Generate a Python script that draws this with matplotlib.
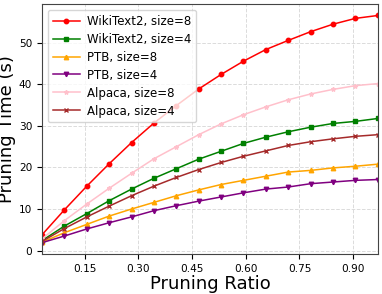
import matplotlib
matplotlib.use('Agg')
import matplotlib.pyplot as plt

# pruning ratios (16 points)
ratios = [0.03125, 0.09375, 0.15625, 0.21875, 0.28125, 0.34375, 0.40625, 0.46875,
          0.53125, 0.59375, 0.65625, 0.71875, 0.78125, 0.84375, 0.90625, 0.96875]

wiki_8 = [3.8, 9.8, 15.5, 20.9, 26.0, 30.7, 34.9, 38.9, 42.4, 45.6, 48.4, 50.6, 52.7, 54.5, 55.9, 56.6]
wiki_4 = [2.4, 5.9, 8.9, 12.0, 14.8, 17.4, 19.7, 22.0, 23.9, 25.8, 27.3, 28.6, 29.7, 30.6, 31.1, 31.8]
ptb_8 = [2.0, 4.3, 6.3, 8.3, 10.0, 11.6, 13.2, 14.6, 15.9, 16.9, 17.9, 18.9, 19.3, 19.9, 20.3, 20.8]
ptb_4 = [1.9, 3.5, 5.2, 6.7, 8.1, 9.6, 10.8, 11.9, 12.9, 13.9, 14.8, 15.3, 16.1, 16.5, 16.9, 17.1]
alpaca_8 = [2.8, 7.2, 11.2, 15.0, 18.6, 22.1, 25.0, 27.9, 30.5, 32.7, 34.6, 36.3, 37.7, 38.8, 39.7, 40.2]
alpaca_4 = [2.2, 5.3, 8.1, 10.7, 13.2, 15.5, 17.6, 19.5, 21.2, 22.7, 24.0, 25.3, 26.2, 26.9, 27.5, 27.9]

x_ticks = [0.15, 0.30, 0.45, 0.60, 0.75, 0.90]
y_ticks = [0, 10, 20, 30, 40, 50]

fig = plt.figure(figsize=(3.82, 2.94), dpi=100)
ax = fig.add_axes([0.110, 0.136, 0.879, 0.850])

ax.plot(ratios, wiki_8, color='red', marker='o', markersize=3.2, lw=1.1, label='WikiText2, size=8')
ax.plot(ratios, wiki_4, color='green', marker='s', markersize=3.2, lw=1.1, label='WikiText2, size=4')
ax.plot(ratios, ptb_8, color='orange', marker='^', markersize=3.2, lw=1.1, label='PTB, size=8')
ax.plot(ratios, ptb_4, color='purple', marker='v', markersize=3.2, lw=1.1, label='PTB, size=4')
ax.plot(ratios, alpaca_8, color='pink', marker='*', markersize=3.2, lw=1.1, label='Alpaca, size=8')
ax.plot(ratios, alpaca_4, color='brown', marker='x', markersize=3.2, lw=1.1, label='Alpaca, size=4')

ax.set_xlim(ratios[0], ratios[-1])
ax.set_xticks(x_ticks)
ax.set_xticklabels([f'{t:.2f}' for t in x_ticks])
ax.set_yticks(y_ticks)
ax.tick_params(labelsize=7.6)
ax.grid(True, linestyle='--', color='lightgray', alpha=0.8, lw=0.7)
for s in ax.spines.values():
    s.set_color('#444444')

ax.set_xlabel('Pruning Ratio', fontsize=13, labelpad=1)
ax.set_ylabel('Pruning Time (s)', fontsize=13, labelpad=2)
ax.legend(loc='upper left', fontsize=8.5, labelspacing=0.42,
          handlelength=2.3, handletextpad=0.6)

fig.savefig('out.png', dpi=100)
